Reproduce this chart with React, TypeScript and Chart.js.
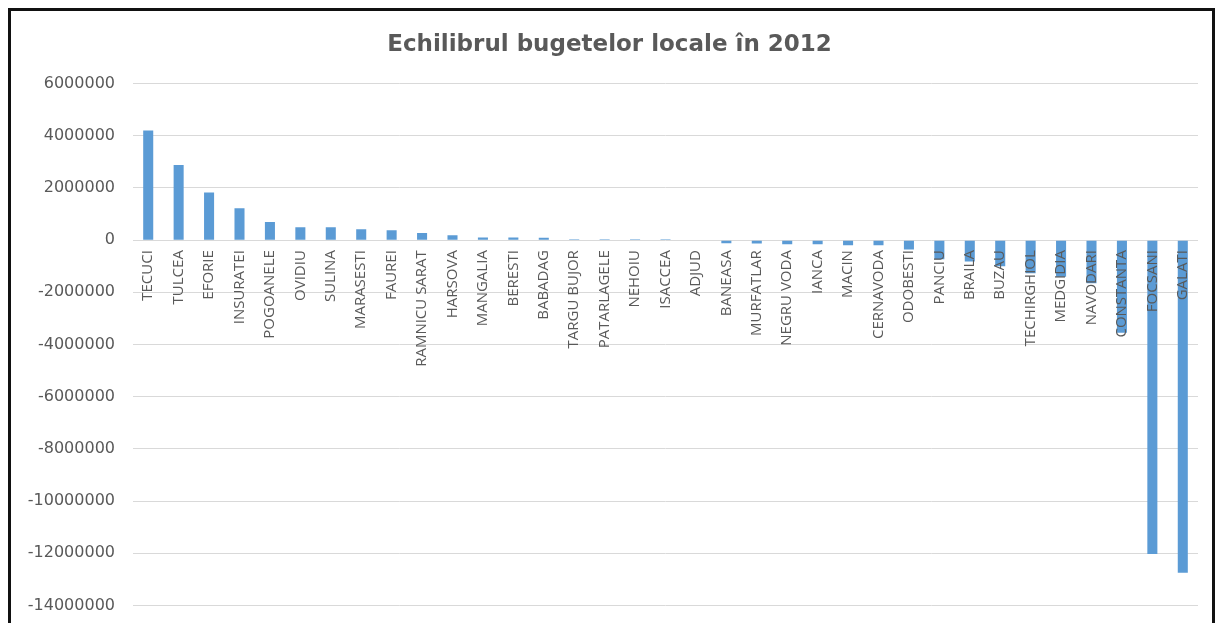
import React, { useEffect, useRef } from "react";
import { Chart, registerables } from "chart.js";

Chart.register(...registerables);

const TITLE = "Echilibrul bugetelor locale în 2012";

const categories: string[] = [
  "TECUCI", "TULCEA", "EFORIE", "INSURATEI", "POGOANELE", "OVIDIU", "SULINA",
  "MARASESTI", "FAUREI", "RAMNICU SARAT", "HARSOVA", "MANGALIA", "BERESTI",
  "BABADAG", "TARGU BUJOR", "PATARLAGELE", "NEHOIU", "ISACCEA", "ADJUD",
  "BANEASA", "MURFATLAR", "NEGRU VODA", "IANCA", "MACIN", "CERNAVODA",
  "ODOBESTI", "PANCIU", "BRAILA", "BUZAU", "TECHIRGHIOL", "MEDGIDIA",
  "NAVODARI", "CONSTANTA", "FOCSANI", "GALATI",
];

const balance2012: number[] = [
  4200000, 2880000, 1830000, 1220000, 700000, 490000, 490000,
  420000, 380000, 270000, 190000, 100000, 100000,
  90000, 30000, 30000, 30000, 30000, 0,
  -120000, -130000, -160000, -160000, -200000, -200000,
  -360000, -730000, -820000, -1000000, -1270000, -1400000,
  -1650000, -3550000, -12030000, -12750000,
];

const yMin = -14000000;
const yMax = 6000000;
const yStep = 2000000;

export default function App() {
  const ref = useRef<HTMLCanvasElement | null>(null);

  useEffect(() => {
    if (!ref.current) return;
    const chart = new Chart(ref.current, {
      type: "bar",
      data: {
        labels: categories,
        datasets: [
          {
            label: "Echilibru",
            data: balance2012,
            backgroundColor: "#5b9bd5",
            borderWidth: 0,
            barPercentage: 0.33,
            categoryPercentage: 1,
          },
        ],
      },
      options: {
        animation: false,
        responsive: true,
        maintainAspectRatio: false,
        layout: { padding: { left: 10, right: 14, top: 0, bottom: 18 } },
        plugins: {
          legend: { display: false },
          tooltip: { enabled: false },
          title: {
            display: true,
            text: TITLE,
            color: "#595959",
            font: { family: "DejaVu Sans", size: 23, weight: "bold" },
            padding: { top: 20, bottom: 25 },
          },
        },
        scales: {
          x: {
            position: { y: 0 } as any,
            grid: { display: false },
            border: { display: false },
            ticks: {
              z: 1,
              autoSkip: false,
              maxRotation: 90,
              minRotation: 90,
              padding: 2,
              color: "#595959",
              font: { family: "Open Sans", size: 15 },
            },
          },
          y: {
            min: yMin,
            max: yMax,
            afterFit: (s: any) => {
              s.width = 112;
            },
            grid: { color: "#d9d9d9", drawTicks: false, lineWidth: 1 },
            border: { display: false },
            ticks: {
              stepSize: yStep,
              padding: 18,
              color: "#595959",
              font: { family: "DejaVu Sans", size: 16 },
              callback: (v: any) => String(v),
            },
          },
        },
      },
    });
    return () => chart.destroy();
  }, []);

  return (
    <div
      style={{
        position: "absolute",
        left: 8,
        top: 8,
        width: 1201,
        height: 640,
        borderTop: "3px solid #111",
        borderLeft: "3px solid #111",
        borderRight: "3px solid #111",
        background: "#fff",
      }}
    >
      <div style={{ position: "relative", width: 1201, height: 622 }}>
        <canvas ref={ref} />
      </div>
    </div>
  );
}
